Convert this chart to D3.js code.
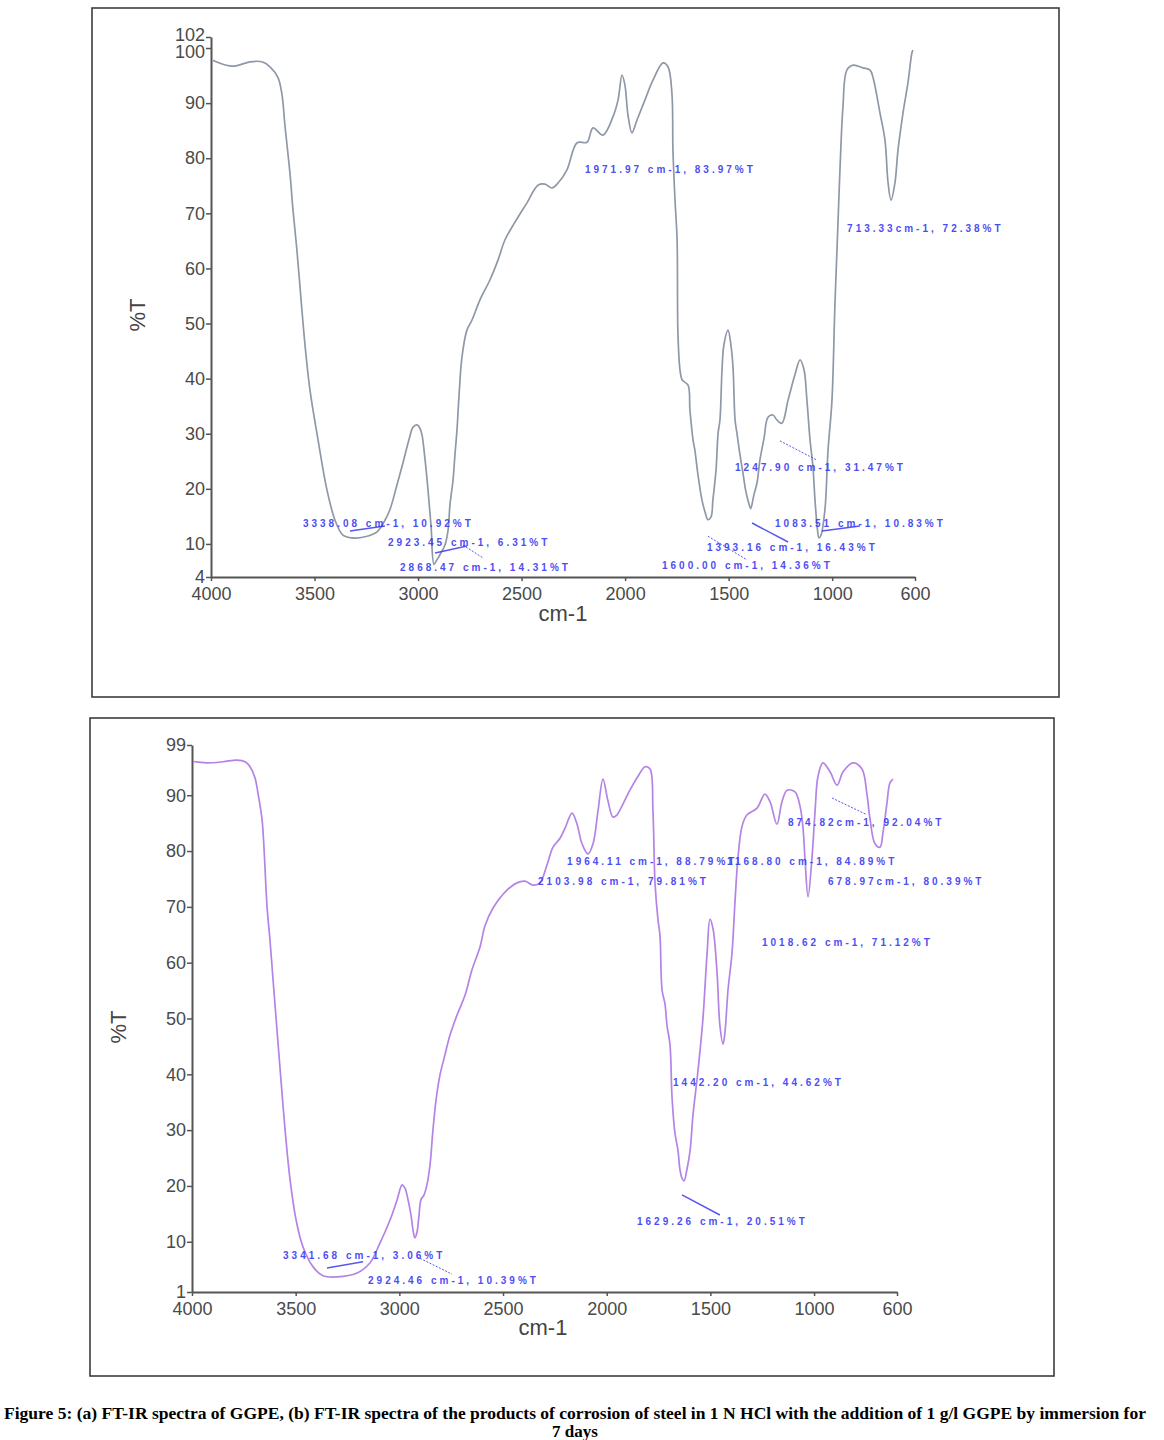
<!DOCTYPE html>
<html><head><meta charset="utf-8">
<script src="https://cdn.jsdelivr.net/npm/d3@7"></script>
<style>
body{margin:0;background:#fff;}
svg{display:block;}
</style></head><body>
<svg id="c" width="1164" height="1440"></svg>
<script>
// ---------- data ----------
const xTickValues = [4000, 3500, 3000, 2500, 2000, 1500, 1000, 600];
const yTickValuesA = [4, 10, 20, 30, 40, 50, 60, 70, 80, 90, 100, 102];
const yTickValuesB = [1, 10, 20, 30, 40, 50, 60, 70, 80, 90, 99];

// (a) FT-IR spectrum of GGPE : [wavenumber cm-1, %T]
const spectrumA = [
[3990,97.8],[3981,97.6],[3894,96.7],[3812,97.5],[3754,97.5],[3715,96.6],[3676,94.6],[3657,91.5],[3643,86.0],
[3618,77.0],[3604,70.6],[3585,63.3],[3565,54.3],[3546,46.1],[3522,37.9],[3483,28.9],[3440,19.8],
[3401,14.3],[3363,11.6],[3319,11.1],[3256,11.3],[3198,12.2],[3160,14.3],[3136,16.2],[3102,20.7],
[3073,24.7],[3044,28.9],[3024,31.2],[3005,31.6],[2991,31.0],[2981,29.8],[2966,25.2],[2952,19.8],
[2937,13.1],[2923,6.3],[2909,7.1],[2889,8.4],[2870,9.8],[2855,12.5],[2846,17.1],[2831,21.6],
[2822,26.1],[2812,30.7],[2802,37.0],[2788,43.9],[2764,48.8],[2740,50.6],[2701,54.3],[2653,57.9],
[2614,61.5],[2580,65.2],[2532,68.4],[2474,71.9],[2421,75.1],[2387,75.3],[2353,74.6],[2324,75.5],
[2281,77.9],[2232,82.8],[2184,82.9],[2155,85.5],[2107,84.2],[2059,87.5],[2034,90.6],[2015,95.1],
[2001,93.3],[1986,87.8],[1967,84.6],[1943,86.9],[1904,90.6],[1865,94.2],[1817,97.3],[1793,96.6],
[1774,91.8],[1769,81.5],[1759,72.4],[1749,65.2],[1745,48.3],[1735,41.6],[1725,39.8],[1696,38.8],
[1687,34.3],[1672,28.9],[1663,27.0],[1648,22.5],[1629,18.0],[1614,15.8],[1600,14.4],[1585,14.9],
[1576,18.0],[1561,23.4],[1551,30.1],[1542,32.5],[1532,41.6],[1523,46.1],[1503,48.8],[1489,46.1],
[1479,42.1],[1469,32.5],[1460,30.1],[1445,26.1],[1431,22.9],[1416,19.4],[1397,16.7],[1393,16.4],
[1378,18.9],[1363,21.1],[1349,25.2],[1329,29.2],[1310,33.0],[1286,33.4],[1267,32.5],[1243,31.9],
[1213,36.1],[1180,40.7],[1155,43.4],[1136,41.6],[1122,36.1],[1107,28.9],[1093,24.0],[1083,18.0],
[1073,13.4],[1064,11.1],[1054,11.6],[1035,16.2],[1020,27.0],[1001,36.1],[987,53.0],[972,68.2],
[963,77.3],[948,89.3],[929,96.0],[899,96.9],[851,96.4],[817,96.0],[803,94.7],[769,88.2],[745,83.3],
[730,75.5],[716,72.4],[697,75.5],[682,81.5],[658,88.2],[634,93.7],[615,99.1],[610,99.6]
];

// (b) FT-IR spectrum of corrosion products : [wavenumber cm-1, %T]
const spectrumB = [
[3995,96.0],[3986,96.0],[3928,95.8],[3850,96.0],[3783,96.3],[3744,96.0],[3720,95.1],[3696,93.1],[3682,90.4],
[3662,85.6],[3653,80.7],[3638,70.0],[3624,64.1],[3609,56.9],[3590,47.9],[3571,39.0],[3551,30.0],
[3527,21.1],[3498,13.9],[3465,9.1],[3416,5.5],[3368,3.9],[3301,3.7],[3204,4.4],[3142,6.2],
[3093,9.8],[3045,13.9],[3011,17.5],[2987,20.2],[2973,19.6],[2958,17.5],[2944,14.8],[2934,12.1],
[2925,10.7],[2915,11.7],[2905,14.8],[2896,17.5],[2881,18.4],[2867,20.2],[2852,23.8],[2838,30.0],
[2823,35.4],[2804,39.9],[2780,43.5],[2756,47.0],[2722,50.6],[2683,54.2],[2650,58.7],[2611,62.8],
[2587,66.6],[2548,69.8],[2481,73.0],[2433,74.3],[2394,74.6],[2355,73.9],[2322,74.3],[2288,77.5],
[2259,80.7],[2225,82.3],[2201,84.1],[2167,86.8],[2143,84.8],[2119,81.3],[2090,79.5],[2066,81.3],
[2042,87.2],[2018,92.9],[1994,89.0],[1970,86.1],[1950,86.5],[1926,88.1],[1888,90.9],[1849,93.4],
[1815,95.1],[1791,94.7],[1777,87.2],[1767,74.3],[1753,67.8],[1743,64.8],[1733,55.1],[1719,52.6],
[1709,48.7],[1695,45.4],[1685,35.9],[1671,29.5],[1656,26.3],[1647,23.0],[1637,21.4],[1627,20.9],
[1613,23.0],[1598,26.3],[1584,32.7],[1564,39.2],[1550,44.2],[1536,49.9],[1516,61.6],[1502,67.8],
[1487,66.0],[1468,58.3],[1454,48.7],[1439,45.4],[1430,47.4],[1415,55.1],[1396,61.6],[1381,71.1],
[1367,78.8],[1347,84.5],[1323,86.5],[1275,87.7],[1237,90.2],[1212,88.8],[1179,84.8],[1155,88.8],
[1130,90.9],[1092,90.6],[1068,88.1],[1053,84.0],[1044,78.8],[1029,71.8],[1010,78.8],[995,87.2],
[981,93.4],[957,95.8],[923,94.2],[889,91.8],[860,94.2],[812,95.8],[769,94.7],[745,90.2],[730,85.7],
[706,81.3],[682,80.7],[668,83.2],[649,88.4],[634,92.2],[619,92.9]
];

// peak labels: text, anchor wavenumber, anchor %T
const labelTextA = ["1971.97 cm-1, 83.97%T","713.33cm-1, 72.38%T","3338.08 cm-1, 10.92%T","2923.45 cm-1, 6.31%T",
  "2868.47 cm-1, 14.31%T","1247.90 cm-1, 31.47%T","1083.51 cm-1, 10.83%T","1393.16 cm-1, 16.43%T","1600.00 cm-1, 14.36%T"];
const labelWnA = [2194, 928, 3556, 3145, 3087, 1469, 1276, 1605, 1822];
const labelTA  = [78.0, 67.2, 13.8, 10.35, 5.8, 23.8, 13.8, 9.4, 6.0];

const labelTextB = ["1964.11 cm-1, 88.79%T","1168.80 cm-1, 84.89%T","2103.98 cm-1, 79.81%T","874.82cm-1, 92.04%T",
  "678.97cm-1, 80.39%T","1018.62 cm-1, 71.12%T","1442.20 cm-1, 44.62%T","1629.26 cm-1, 20.51%T",
  "3341.68 cm-1, 3.06%T","2924.46 cm-1, 10.39%T"];
const labelWnB = [2191, 1420, 2331, 1126, 933, 1251, 1680, 1854, 3561, 3151];
const labelTB  = [78.2, 78.2, 74.6, 85.2, 74.6, 63.7, 38.6, 13.7, 7.6, 3.0];

// leader lines: [wn1, %T1, wn2, %T2, dotted]
const leadersA = [[3329,12.35,3160,13.25,0],[2918,8.36,2764,9.63,0],[2783,9.8,2686,7.45,1],
  [1252,28.7,1073,25.2,1],[1049,12.35,866,13.25,0],[1387,13.8,1213,10.35,0],[1600,11.4,1411,7.1,1]];
const leadersB = [[913,89.5,745,86.5,1],[1637,18.4,1454,14.8,0],[3349,5.3,3175,6.4,0],[2915,7.3,2746,4.2,1]];

const captionLines = ["Figure 5: (a) FT-IR spectra of GGPE, (b) FT-IR spectra of the products of corrosion of steel in 1 N HCl with the addition of 1 g/l GGPE by immersion for",
  "7 days"];

// ---------- layout ----------
const svg = d3.select("#c");
const panels = [
  {frame:[92,8,967,689], xr:[211,915], yr:[577,37], yd:[4,102], yt:yTickValuesA, data:spectrumA,
   color:"#8f98a6", lt:labelTextA, lw:labelWnA, lv:labelTA, leaders:leadersA,
   yTitle:[137,315], xTitle:[563,621]},
  {frame:[90,718,964,658], xr:[192,897], yr:[1292,745], yd:[1,99], yt:yTickValuesB, data:spectrumB,
   color:"#b383e6", lt:labelTextB, lw:labelWnB, lv:labelTB, leaders:leadersB,
   yTitle:[118,1027], xTitle:[543,1335]}
];

const axisFont = "'Liberation Sans', Arial, sans-serif";
const annColor = "#3a3af2";
const labelNudge = {100: 4, 102: -2};

panels.forEach(p => {
  const g = svg.append("g");
  g.append("rect").attr("x",p.frame[0]).attr("y",p.frame[1]).attr("width",p.frame[2]).attr("height",p.frame[3])
    .attr("fill","none").attr("stroke","#3c3c3c").attr("stroke-width",1.6);

  const x = d3.scaleLinear().domain([4000,600]).range(p.xr);
  const y = d3.scaleLinear().domain(p.yd).range(p.yr);

  const xa = g.append("g").attr("transform",`translate(0,${p.yr[0]})`)
    .call(d3.axisBottom(x).tickValues(xTickValues).tickFormat(d3.format("d")).tickSize(4).tickPadding(6).tickSizeOuter(0));
  const ya = g.append("g").attr("transform",`translate(${p.xr[0]},0)`)
    .call(d3.axisLeft(y).tickValues(p.yt).tickFormat(d3.format("d")).tickSize(5).tickPadding(1).tickSizeOuter(0));
  [xa,ya].forEach(a=>{
    a.select(".domain").attr("stroke","#555").attr("stroke-width",2);
    a.selectAll(".tick line").attr("stroke","#555").attr("stroke-width",1.5);
    a.selectAll(".tick text").attr("fill","#4a4a4a").style("font-family",axisFont).style("font-size","18px");
  });
  ya.selectAll(".tick text").attr("y", d => labelNudge[d] || 0);

  g.append("text").attr("transform",`translate(${p.yTitle[0]},${p.yTitle[1]}) rotate(-90)`)
    .attr("text-anchor","middle").attr("dominant-baseline","central")
    .style("font-family",axisFont).style("font-size","22px").attr("fill","#444").text("%T");
  g.append("text").attr("x",p.xTitle[0]).attr("y",p.xTitle[1]).attr("text-anchor","middle")
    .style("font-family",axisFont).style("font-size","22px").attr("fill","#444").text("cm-1");

  const line = d3.line().x(d=>x(d[0])).y(d=>y(d[1])).curve(d3.curveCatmullRom.alpha(0.5));
  g.append("path").datum(p.data).attr("d",line).attr("fill","none")
    .attr("stroke",p.color).attr("stroke-width",1.7).attr("stroke-linejoin","round");

  g.selectAll("line.lead").data(p.leaders).enter().append("line").attr("class","lead")
    .attr("x1",d=>x(d[0])).attr("y1",d=>y(d[1])).attr("x2",d=>x(d[2])).attr("y2",d=>y(d[3]))
    .attr("stroke",annColor).attr("stroke-width",d=>d[4]?1:1.5).attr("stroke-dasharray",d=>d[4]?"2,1.5":null)
    .attr("opacity",0.85);

  g.selectAll("text.ann").data(p.lt).enter().append("text").attr("class","ann")
    .attr("x",(d,i)=>x(p.lw[i])).attr("y",(d,i)=>y(p.lv[i])).attr("dy","0.35em")
    .style("font-family",axisFont).style("font-size","10px").style("font-weight","bold")
    .style("letter-spacing","3px").attr("fill",annColor).attr("opacity",0.9).text(d=>d);
});

svg.selectAll("text.cap").data(captionLines).enter().append("text").attr("class","cap")
  .attr("x",575).attr("y",(d,i)=>1419+i*18).attr("text-anchor","middle")
  .style("font-family","'Liberation Serif','Times New Roman',serif").style("font-weight","bold")
  .style("font-size","17px").attr("fill","#000")
  .attr("textLength",(d,i)=>i===0?1142:null).attr("lengthAdjust","spacingAndGlyphs")
  .text(d=>d);
</script>
</body></html>
